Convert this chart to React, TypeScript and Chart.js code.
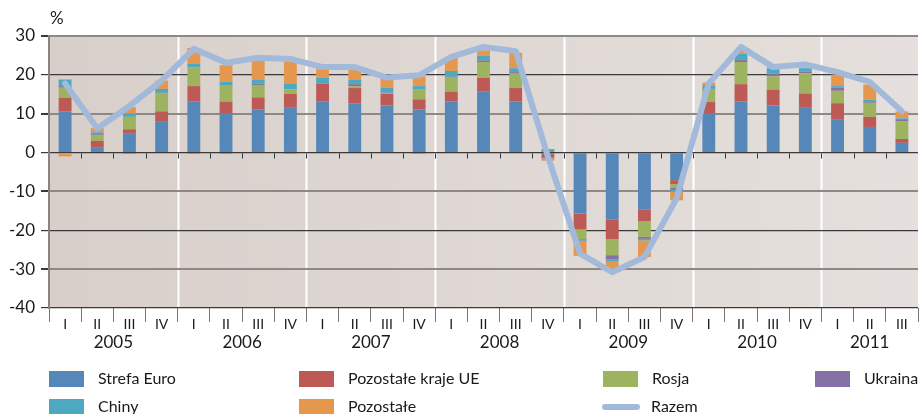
import React, { useEffect, useRef } from "react";
import { Chart, registerables } from "chart.js";

Chart.register(...registerables);

const quarters = ["I","II","III","IV","I","II","III","IV","I","II","III","IV","I","II","III","IV","I","II","III","IV","I","II","III","IV","I","II","III"];
const years = ["2005","2006","2007","2008","2009","2010","2011"];
const yTicks = [30, 20, 10, 0, -10, -20, -30, -40];

const strefaEuro = [10.6,1.4,5.0,8.1, 13.2,10.0,11.1,11.7, 13.2,12.6,12.1,11.1, 13.2,15.8,13.2,-0.4, -15.7,-17.2,-14.7,-7.1, 10.0,13.2,12.1,11.7, 8.6,6.6,2.5];
const pozostaleUE = [3.5,1.6,1.0,2.5, 3.9,3.1,3.1,3.4, 4.5,4.0,3.0,2.6, 2.5,3.4,3.4,-0.9, -4.1,-5.1,-3.0,-1.0, 3.0,4.4,4.1,3.5, 4.1,2.6,1.0];
const rosja = [2.6,1.5,3.2,4.6, 4.8,4.1,3.2,1.2, -0.3,0.5,0.2,2.5, 3.6,4.1,3.7,0, -2.5,-4.1,-4.0,-1.0, 3.2,5.7,3.4,5.2, 3.2,3.6,4.6];
const ukraina = [0.4,0.2,-0.3,0.2, -0.3,-0.3,0.3,-0.3, 0.1,0.5,0.1,-0.3, 0.2,0.4,0.4,-0.2, -0.3,-1.1,-0.5,-0.5, 0.2,0.5,0.7,0.4, 0.8,0.4,0.5];
const chiny = [1.7,0.5,0.8,1.0, 0.9,1.0,1.0,1.4, 1.5,1.1,1.3,0.9, 1.5,1.2,1.0,0.9, -0.2,-0.4,-0.4,-0.4, 0.9,1.7,1.4,0.9, 0.4,0.4,0.2];
const pozostale = [-1.0,1.1,1.7,2.1, 4.1,4.3,5.3,5.8, 2.4,2.9,2.6,2.5, 3.4,1.4,4.0,-0.6, -3.8,-2.0,-4.3,-2.3, 0.7,0.8,0.2,0.2, 3.0,3.9,1.8];
const razem = [17.8,6.2,12.0,18.5, 26.7,23.1,24.4,24.1, 22.0,22.0,19.3,19.9, 24.6,27.2,26.1,-1.0, -26.0,-30.8,-26.9,-11.8, 17.8,27.2,22.0,22.7, 20.7,18.2,10.6];

const C_EURO = "#5687b9";
const C_UE = "#bd5a55";
const C_ROSJA = "#9db35f";
const C_UKR = "#8671a6";
const C_CHINY = "#4ca9c0";
const C_POZ = "#e5974e";
const C_RAZEM = "#a3b9da";

const FONT = "Lato, sans-serif";

Chart.defaults.font.family = FONT;

const decorPlugin = {
  id: "decor",
  beforeDraw(chart: any) {
    const { ctx, chartArea } = chart;
    const { left, right, top, bottom } = chartArea;
    ctx.save();
    const g = ctx.createLinearGradient(left, 0, right, 0);
    g.addColorStop(0, "#d8cfca");
    g.addColorStop(1, "#e5e0dd");
    ctx.fillStyle = g;
    ctx.fillRect(left, top, right - left, bottom - top);
    const step = (right - left) / quarters.length;
    ctx.strokeStyle = "#ffffff";
    ctx.lineWidth = 2;
    for (let k = 4; k < quarters.length; k += 4) {
      const x = Math.round(left + step * k) + 0.5;
      ctx.beginPath();
      ctx.moveTo(x, top);
      ctx.lineTo(x, bottom);
      ctx.stroke();
    }
    ctx.restore();
  },
  afterDatasetsDraw(chart: any) {
    const { ctx, chartArea } = chart;
    const { left, right } = chartArea;
    const y0 = Math.round(chart.scales.y.getPixelForValue(0)) + 0.5;
    const step = (right - left) / quarters.length;
    ctx.save();
    ctx.strokeStyle = "#333";
    ctx.lineWidth = 1;
    for (let k = 1; k < quarters.length; k++) {
      const x = Math.round(left + step * k) + 0.5;
      ctx.beginPath();
      ctx.moveTo(x, y0);
      ctx.lineTo(x, y0 + 5);
      ctx.stroke();
    }
    ctx.restore();
  },
  afterDraw(chart: any) {
    const { ctx, chartArea } = chart;
    const { left, right, bottom } = chartArea;
    const step = (right - left) / quarters.length;
    ctx.save();
    ctx.fillStyle = "#1a1a1a";
    ctx.font = `17px ${FONT}`;
    ctx.textAlign = "center";
    ctx.textBaseline = "middle";
    years.forEach((yr, i) => {
      const first = i * 4;
      const last = Math.min(first + 3, quarters.length - 1);
      const cx = left + step * ((first + last) / 2 + 0.5);
      ctx.fillText(yr, cx, bottom + 35);
    });
    ctx.textAlign = "left";
    ctx.fillText("%", left + 1, 19);
    ctx.restore();
  },
};

function App() {
  const ref = useRef<HTMLCanvasElement | null>(null);
  useEffect(() => {
    if (!ref.current) return;
    const barBase = {
      type: "bar" as const,
      order: 1,
      barPercentage: 0.4,
      categoryPercentage: 1,
      borderWidth: 0,
    };
    const chart = new Chart(ref.current, {
      type: "bar",
      data: {
        labels: quarters,
        datasets: [
          { ...barBase, label: "Strefa Euro", data: strefaEuro, backgroundColor: C_EURO },
          { ...barBase, label: "Pozostałe kraje UE", data: pozostaleUE, backgroundColor: C_UE },
          { ...barBase, label: "Rosja", data: rosja, backgroundColor: C_ROSJA },
          { ...barBase, label: "Ukraina", data: ukraina, backgroundColor: C_UKR },
          { ...barBase, label: "Chiny", data: chiny, backgroundColor: C_CHINY },
          { ...barBase, label: "Pozostałe", data: pozostale, backgroundColor: C_POZ },
          {
            type: "line" as const,
            label: "Razem",
            data: razem,
            order: 0,
            stack: "razem",
            borderColor: C_RAZEM,
            borderWidth: 6,
            pointRadius: 0,
            tension: 0,
            borderJoinStyle: "round",
            borderCapStyle: "round",
          } as any,
        ],
      },
      options: {
        animation: false,
        responsive: false,
        maintainAspectRatio: false,
        layout: { padding: { top: 36, right: 4, left: 0, bottom: 0 } },
        plugins: { legend: { display: false }, tooltip: { enabled: false } },
        scales: {
          x: {
            stacked: true,
            grid: {
              offset: true,
              drawOnChartArea: false,
              drawTicks: true,
              tickLength: 14,
              tickColor: "#7a7572",
              lineWidth: 1,
            },
            border: { display: false },
            ticks: {
              font: { family: FONT, size: 14 },
              color: "#1a1a1a",
              padding: -6,
              maxRotation: 0,
              autoSkip: false,
            },
            afterFit(scale: any) {
              scale.height = 106;
            },
          },
          y: {
            stacked: true,
            min: -40,
            max: 30,
            afterBuildTicks(scale: any) {
              scale.ticks = yTicks.map((v) => ({ value: v }));
            },
            grid: {
              color: (c: any) => (c.tick && Math.abs(c.tick.value % 20) === 0 ? "#3a3a3a" : "#8f8986"),
              lineWidth: (c: any) => (c.tick && Math.abs(c.tick.value % 20) === 0 ? 1.2 : 2),
              tickLength: 8,
              tickColor: "#3a3a3a",
              drawTicks: true,
            },
            border: { display: true, color: "#8a8480", width: 2 },
            ticks: {
              font: { family: FONT, size: 17 },
              color: "#1a1a1a",
              padding: 6,
            },
            afterFit(scale: any) {
              scale.width = 49;
            },
          },
        },
      },
      plugins: [decorPlugin],
    });
    return () => {
      chart.destroy();
    };
  }, []);

  const legendItems = [
    { label: "Strefa Euro", color: C_EURO, x: 49, y: 379, line: false },
    { label: "Pozostałe kraje UE", color: C_UE, x: 299, y: 379, line: false },
    { label: "Rosja", color: C_ROSJA, x: 603, y: 379, line: false },
    { label: "Ukraina", color: C_UKR, x: 815, y: 379, line: false },
    { label: "Chiny", color: C_CHINY, x: 49, y: 407, line: false },
    { label: "Pozostałe", color: C_POZ, x: 299, y: 407, line: false },
    { label: "Razem", color: C_RAZEM, x: 602, y: 407, line: true },
  ];

  return (
    <div style={{ position: "absolute", left: 0, top: 0, width: 922, height: 414, background: "#fff", overflow: "hidden", fontFamily: FONT }}>
      <canvas ref={ref} width={922} height={414} style={{ position: "absolute", left: 0, top: 0, width: 922, height: 414 }} />
      {legendItems.map((it) => (
        <div key={it.label}>
          {it.line ? (
            <div style={{ position: "absolute", left: it.x, top: it.y - 3, width: 38, height: 6, borderRadius: 3, background: it.color }} />
          ) : (
            <div style={{ position: "absolute", left: it.x, top: it.y - 8, width: 35, height: 16, background: it.color }} />
          )}
          <div style={{ position: "absolute", left: it.x + 49, top: it.y - 12, height: 22, lineHeight: "22px", fontSize: 16, color: "#1a1a1a", whiteSpace: "nowrap" }}>
            {it.label}
          </div>
        </div>
      ))}
    </div>
  );
}

export default App;
